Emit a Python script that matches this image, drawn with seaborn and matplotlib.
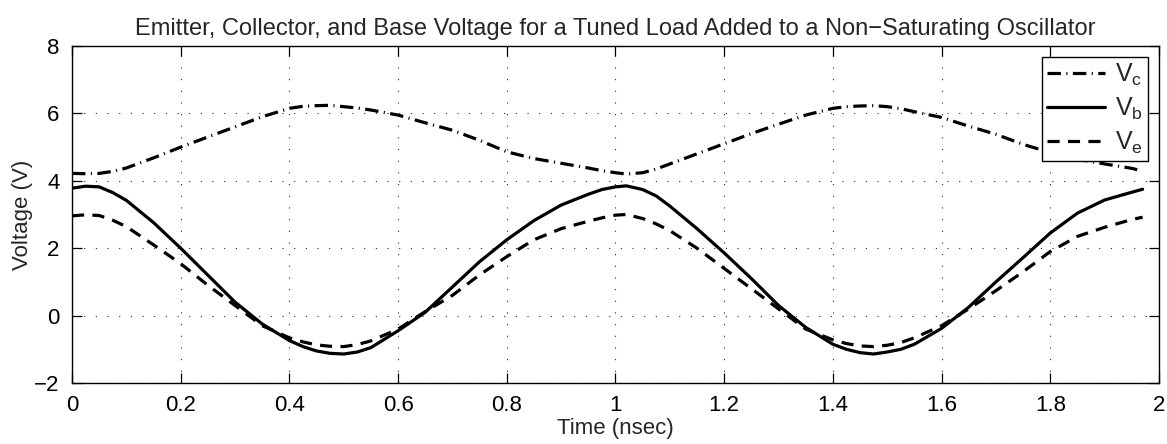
import numpy as np
import pandas as pd
import matplotlib
matplotlib.use("Agg")
import matplotlib.pyplot as plt
import seaborn as sns

# ---- data ----
t = [0.00, 0.025, 0.05, 0.075, 0.10, 0.15, 0.20, 0.25, 0.30, 0.35, 0.40, 0.425, 0.45,
     0.475, 0.50, 0.525, 0.55, 0.60, 0.65, 0.70, 0.75, 0.80, 0.85, 0.90, 0.95, 0.975,
     1.00, 1.02, 1.05, 1.075, 1.10, 1.15, 1.20, 1.25, 1.30, 1.35, 1.40, 1.425,
     1.45, 1.475, 1.50, 1.525, 1.55, 1.60, 1.65, 1.70, 1.75, 1.80, 1.85, 1.90,
     1.95, 1.97]
vc = [4.22, 4.21, 4.22, 4.28, 4.38, 4.68, 5.00, 5.30, 5.60, 5.90, 6.15, 6.21, 6.23,
      6.24, 6.20, 6.16, 6.10, 5.95, 5.72, 5.50, 5.20, 4.86, 4.66, 4.52, 4.38, 4.30,
      4.24, 4.20, 4.24, 4.35, 4.50, 4.80, 5.10, 5.40, 5.68, 5.95, 6.15, 6.20,
      6.22, 6.23, 6.20, 6.14, 6.05, 5.88, 5.62, 5.38, 5.08, 4.84, 4.64, 4.50,
      4.37, 4.33]
vb = [3.78, 3.84, 3.82, 3.65, 3.42, 2.76, 2.00, 1.20, 0.40, -0.25, -0.74, -0.92, -1.05,
      -1.12, -1.14, -1.08, -0.95, -0.45, 0.10, 0.85, 1.60, 2.25, 2.82, 3.28, 3.60, 3.74,
      3.82, 3.85, 3.74, 3.55, 3.25, 2.58, 1.86, 1.10, 0.30, -0.35, -0.85, -1.00,
      -1.10, -1.14, -1.08, -1.00, -0.85, -0.38, 0.25, 1.00, 1.72, 2.45, 3.04, 3.43,
      3.66, 3.75]
ve = [2.96, 2.99, 2.97, 2.83, 2.64, 2.10, 1.54, 0.90, 0.30, -0.30, -0.66, -0.78, -0.87,
      -0.91, -0.92, -0.86, -0.75, -0.40, 0.12, 0.60, 1.21, 1.75, 2.25, 2.58, 2.80, 2.90,
      2.98, 3.00, 2.88, 2.72, 2.52, 2.00, 1.40, 0.80, 0.20, -0.40, -0.72, -0.83,
      -0.90, -0.92, -0.88, -0.80, -0.66, -0.30, 0.20, 0.74, 1.30, 1.90, 2.35, 2.62,
      2.85, 2.92]
labels = [r"V$_\mathregular{c}$", r"V$_\mathregular{b}$", r"V$_\mathregular{e}$"]
xticks = [0, 0.2, 0.4, 0.6, 0.8, 1, 1.2, 1.4, 1.6, 1.8, 2]
yticks = [-2, 0, 2, 4, 6, 8]
title = "Emitter, Collector, and Base Voltage for a Tuned Load Added to a Non\u2212Saturating Oscillator"

sns.set_style("ticks")
plt.rcParams["font.family"] = ["Liberation Sans", "DejaVu Sans"]
plt.rcParams["mathtext.fontset"] = "custom"
plt.rcParams["mathtext.rm"] = "Liberation Sans"
plt.rcParams["axes.unicode_minus"] = True

fig = plt.figure(figsize=(11.67, 4.44), dpi=100)
ax = fig.add_axes([0.0617, 0.1374, 0.9314, 0.759])

lw = 2.3
tc = t[:-1] + [1.96]
sns.lineplot(x=tc, y=vc, ax=ax, color="black", linewidth=lw,
             label=labels[0], estimator=None, sort=False)
sns.lineplot(x=t, y=vb, ax=ax, color="black", linewidth=lw,
             label=labels[1], estimator=None, sort=False)
sns.lineplot(x=t, y=ve, ax=ax, color="black", linewidth=lw,
             label=labels[2], estimator=None, sort=False)
lines = ax.get_lines()
lines[0].set_linestyle((0, (4.2, 1.7, 0.35, 1.7)))
lines[0].set_dash_capstyle("butt")
lines[1].set_linestyle("-")
lines[2].set_linestyle((0, (3.8, 2.6)))
lines[2].set_dash_capstyle("butt")

ax.set_xlim(0, 2)
ax.set_ylim(-2, 8)
ax.set_xticks(xticks)
ax.set_xticklabels([f"{v:g}" for v in xticks])
ax.set_yticks(yticks)
ax.set_yticklabels([f"{v:g}".replace("-", "\u2212") for v in yticks])
ax.tick_params(direction="in", top=True, right=True, length=7.5, width=0.9,
               labelsize=16, pad=9, colors="black")
for s in ax.spines.values():
    s.set_visible(True)
    s.set_linewidth(1.0)
    s.set_color("black")
ax.grid(True, linestyle=(0, (1, 9.5)), color="black", linewidth=0.8, alpha=0.85)

ax.set_title(title, fontsize=17, pad=8)
ax.set_xlabel("Time (nsec)", fontsize=16, labelpad=1)
ax.set_ylabel("Voltage (V)", fontsize=16, labelpad=1)

leg = ax.legend(loc="upper right", fontsize=18, frameon=True, fancybox=False,
                handlelength=2.3, borderaxespad=0.45, labelspacing=0.3,
                handletextpad=0.4, borderpad=0.2)
leg.get_frame().set_edgecolor("black")
leg.get_frame().set_linewidth(1.0)
leg.get_frame().set_alpha(1)

fig.savefig("out.png", dpi=100)
